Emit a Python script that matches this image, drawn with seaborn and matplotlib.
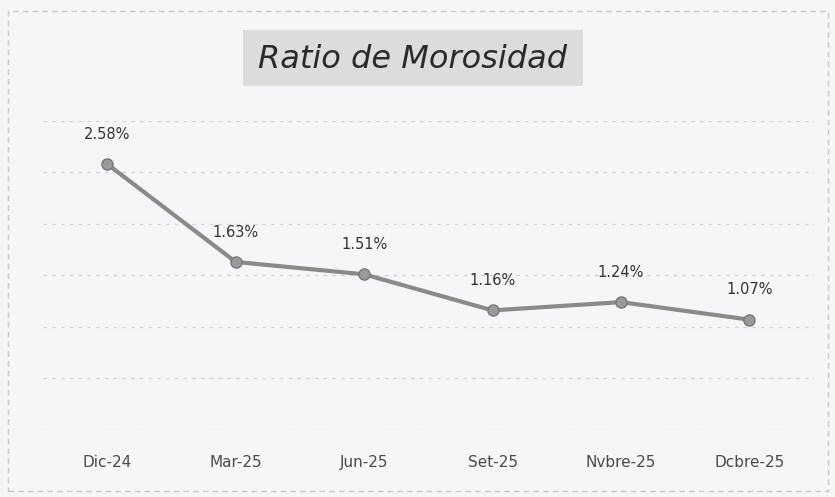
import matplotlib
matplotlib.use("Agg")
import matplotlib.pyplot as plt
import seaborn as sns
import pandas as pd
from matplotlib.patches import Rectangle

categories = ["Dic-24", "Mar-25", "Jun-25", "Set-25", "Nvbre-25", "Dcbre-25"]
ratio = [2.58, 1.63, 1.51, 1.16, 1.24, 1.07]
labels = ["2.58%", "1.63%", "1.51%", "1.16%", "1.24%", "1.07%"]
title = "Ratio de Morosidad"

df = pd.DataFrame({"mes": categories, "ratio": ratio})

sns.set_theme(style="white")
plt.rcParams['font.family'] = ['DejaVu Sans']

bg = "#f6f6f9"
fig = plt.figure(figsize=(8.35, 4.97), dpi=100, facecolor=bg)
ax = fig.add_axes([0.0515, 0.135, 0.923, 0.622])
ax.set_facecolor(bg)

sns.lineplot(data=df, x="mes", y="ratio", ax=ax, sort=False, color="#8a8a8a",
             linewidth=3, marker="o", markersize=8, markerfacecolor="#9a9a9a",
             markeredgecolor="#777777", markeredgewidth=1)

ax.set_xlim(-0.5, len(categories) - 0.5)
ax.set_ylim(0, 3.0)
ax.set_yticks([0, 0.5, 1.0, 1.5, 2.0, 2.5, 3.0])
ax.set_yticklabels([])
ax.yaxis.grid(True, color="#d4d4d8", linestyle=(0, (3, 4)), linewidth=0.9)
ax.xaxis.grid(False)
for s in ax.spines.values():
    s.set_visible(False)
ax.tick_params(axis="y", length=0)
ax.tick_params(axis="x", length=0, pad=18, labelsize=11, labelcolor="#4a4a4a")
ax.set_xlabel("")
ax.set_ylabel("")

for i, (v, t) in enumerate(zip(ratio, labels)):
    ax.annotate(t, (i, v), xytext=(0, 16), textcoords="offset points",
                ha="center", va="bottom", fontsize=10.5, color="#333333")

# title box
fig.patches.append(Rectangle((243 / 835, 1 - 86 / 497), 340 / 835, 56 / 497,
                             transform=fig.transFigure, facecolor="#dcdcdc",
                             edgecolor="none", zorder=0))
fig.text(413 / 835, 1 - 60 / 497, title, ha="center", va="center",
         fontsize=23, style="italic", color="#2a2a2a", family=["DejaVu Sans"])

# outer frame
fig.patches.append(Rectangle((8 / 835, 6 / 497), 820 / 835, 480 / 497,
                             transform=fig.transFigure, facecolor="none",
                             edgecolor="#c8c8cc", linestyle=(0, (4, 3)), linewidth=1))

fig.savefig("out.png", dpi=100, facecolor=bg)
